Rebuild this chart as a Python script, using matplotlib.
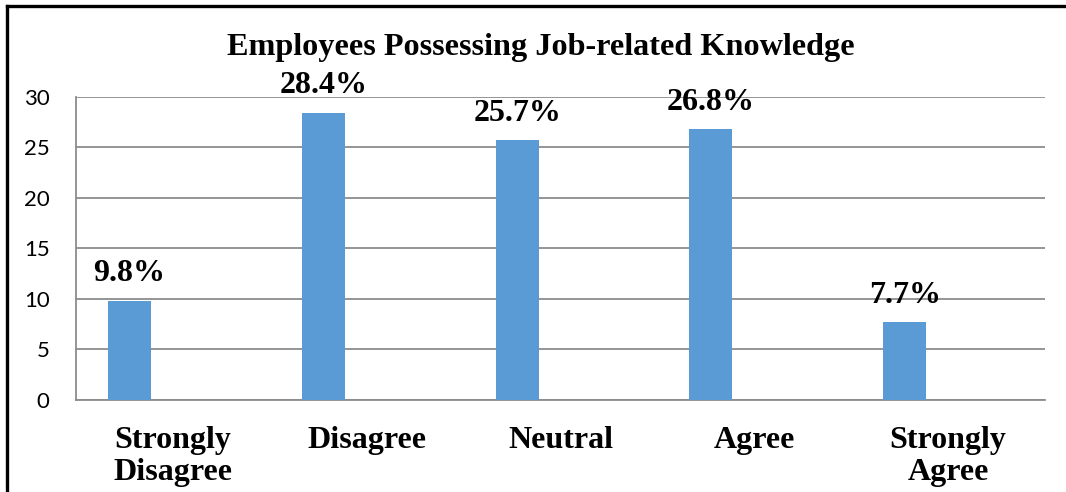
import matplotlib
matplotlib.use("Agg")
import matplotlib.pyplot as plt
from matplotlib.lines import Line2D

categories = ["Strongly\nDisagree", "Disagree", "Neutral", "Agree", "Strongly\nAgree"]
percentages = [9.8, 28.4, 25.7, 26.8, 7.7]
y_ticks = [0, 5, 10, 15, 20, 25, 30]
title = "Employees Possessing Job-related Knowledge"

W, H = 1066, 492
fig = plt.figure(figsize=(W / 100, H / 100), dpi=100)
ax = fig.add_axes([76 / W, 1 - 400 / H, (1045 - 76) / W, (400 - 96.7) / H])

serif = ["Liberation Serif", "DejaVu Serif"]
grid_c = "#8c8c8c"
bar_c = "#5b9bd5"

x = list(range(len(categories)))
bar_x = [i - 0.224 for i in x]
bars = ax.bar(bar_x, percentages, width=0.222, color=bar_c, zorder=3)

for xi, v in zip(bar_x, percentages):
    ax.annotate(f"{v}%", (xi, v), xytext=(0, 14), textcoords="offset points",
                ha="center", va="baseline", fontsize=23, fontweight="bold",
                family=serif, zorder=4)

ax.set_xlim(-0.5, len(categories) - 0.5)
ax.set_ylim(0, 30)
ax.set_yticks(y_ticks)
ax.set_xticks(x)
ax.set_xticklabels(categories, fontsize=23, fontweight="bold", family=serif,
                   linespacing=1.12)
for lbl in ax.get_yticklabels():
    lbl.set_family(["Lato", "DejaVu Sans"])
    lbl.set_fontsize(16)
ax.tick_params(axis="x", length=0, pad=19)
ax.tick_params(axis="y", length=0, pad=19)

ax.grid(axis="y", color=grid_c, linewidth=1.3, zorder=0)
for side in ("top", "right"):
    ax.spines[side].set_visible(False)
for side in ("left", "bottom"):
    ax.spines[side].set_color(grid_c)
    ax.spines[side].set_linewidth(1.3)

fig.text(540.5 / W, 1 - 55 / H, title, ha="center", va="baseline",
         fontsize=23.2, fontweight="bold", family=serif)

# frame around the chart area
fig.add_artist(Line2D([7 / W, 7 / W], [0, 1 - 6 / H], transform=fig.transFigure,
                      color="black", linewidth=2.4))
fig.add_artist(Line2D([7 / W, 1], [1 - 6 / H, 1 - 6 / H], transform=fig.transFigure,
                      color="black", linewidth=2.4))

fig.savefig("out.png", dpi=100)
